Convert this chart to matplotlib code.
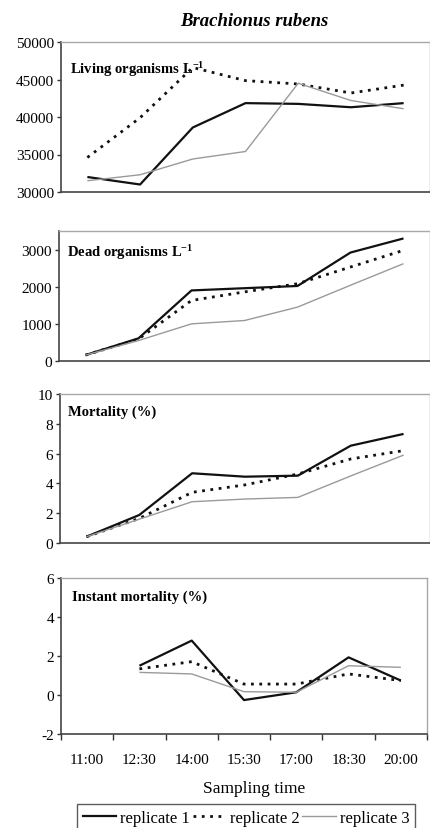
import matplotlib
matplotlib.use("Agg")
import matplotlib.pyplot as plt
from matplotlib.lines import Line2D
import numpy as np

plt.rcParams['font.family'] = ['Liberation Serif', 'DejaVu Serif']
plt.rcParams['mathtext.fontset'] = 'custom'
plt.rcParams['mathtext.rm'] = 'Liberation Serif'
plt.rcParams['mathtext.bf'] = 'Liberation Serif:bold'
plt.rcParams['mathtext.it'] = 'Liberation Serif:italic'

times = ["11:00", "12:30", "14:00", "15:30", "17:00", "18:30", "20:00"]
series_names = ["replicate 1", "replicate 2", "replicate 3"]

living_r1 = [32000, 31000, 38600, 41850, 41750, 41300, 41850]
living_r2 = [34600, 39900, 46600, 44850, 44400, 43200, 44250]
living_r3 = [31500, 32300, 34400, 35400, 44500, 42200, 41100]

dead_r1 = [160, 610, 1900, 1960, 2020, 2920, 3300]
dead_r2 = [160, 590, 1630, 1860, 2080, 2530, 2980]
dead_r3 = [160, 550, 1000, 1090, 1450, 2040, 2620]

mort_r1 = [0.42, 1.88, 4.68, 4.45, 4.52, 6.53, 7.32]
mort_r2 = [0.42, 1.65, 3.40, 3.90, 4.63, 5.64, 6.20]
mort_r3 = [0.42, 1.60, 2.77, 2.95, 3.06, 4.50, 5.90]

inst_r1 = [None, 1.50, 2.79, -0.26, 0.14, 1.93, 0.74]
inst_r2 = [None, 1.34, 1.71, 0.56, 0.56, 1.08, 0.74]
inst_r3 = [None, 1.16, 1.08, 0.17, 0.14, 1.50, 1.42]

W, H = 430, 829
fig = plt.figure(figsize=(W / 100, H / 100), dpi=100)

styles = [
    dict(color="#111111", lw=1.6, linestyle="-"),
    dict(color="#111111", lw=2.0, linestyle=(0, (1, 2))),
    dict(color="#9a9a9a", lw=1.0, linestyle="-"),
]


def px_axes(left, top, right, bottom):
    return fig.add_axes([left / W, 1 - bottom / H, (right - left) / W, (bottom - top) / H])


def draw_panel(ax, series, ylim, yticks, label, label_xy, bottom_axis=False):
    x = np.arange(len(times))
    for vals, st in zip(series, styles):
        v = np.array([np.nan if a is None else a for a in vals], dtype=float)
        ax.plot(x, v, solid_capstyle="butt", dash_capstyle="butt", **st)
    ax.set_xlim(-0.5, len(times) - 0.5)
    ax.set_ylim(*ylim)
    ax.set_yticks(yticks)
    ax.set_yticklabels([str(t) for t in yticks])
    ax.tick_params(axis="y", direction="out", length=3, width=1, pad=2,
                   labelsize=11, color="#333333")
    for s in ("top", "right"):
        ax.spines[s].set_color("#a8a8a8")
        ax.spines[s].set_linewidth(1.0)
    for s in ("left", "bottom"):
        ax.spines[s].set_color("#444444")
        ax.spines[s].set_linewidth(1.2)
    if bottom_axis:
        ax.set_xticks(np.arange(-0.5, len(times) + 0.5, 1.0))
        ax.set_xticklabels([])
        ax.set_xticks(x, minor=True)
        ax.set_xticklabels(times, minor=True)
        ax.tick_params(axis="x", which="major", direction="out", length=4,
                       width=1, color="#333333")
        ax.tick_params(axis="x", which="minor", length=0, pad=13.5, labelsize=11)
    else:
        ax.set_xticks([])
    ax.text(label_xy[0], label_xy[1], label, transform=ax.transAxes,
            fontsize=10.5, fontweight="bold", ha="left", va="center")


ax1 = px_axes(61, 43, 430, 193)
draw_panel(ax1, [living_r1, living_r2, living_r3], (30000, 50000),
           [30000, 35000, 40000, 45000, 50000],
           r"Living organisms L$^{\mathbf{-1}}$", (0.024, 0.82))

ax2 = px_axes(59, 232, 430, 362)
draw_panel(ax2, [dead_r1, dead_r2, dead_r3], (0, 3500),
           [0, 1000, 2000, 3000],
           r"Dead organisms L$^{\mathbf{-1}}$", (0.022, 0.84))

ax3 = px_axes(60, 395, 430, 544)
draw_panel(ax3, [mort_r1, mort_r2, mort_r3], (0, 10),
           [0, 2, 4, 6, 8, 10],
           "Mortality (%)", (0.022, 0.886))

ax4 = px_axes(61, 579, 427, 735)
draw_panel(ax4, [inst_r1, inst_r2, inst_r3], (-2, 6),
           [-2, 0, 2, 4, 6],
           "Instant mortality (%)", (0.03, 0.88), bottom_axis=True)

fig.text(254 / W, 1 - 21 / H, "Brachionus rubens", fontsize=13.5,
         fontweight="bold", fontstyle="italic", ha="center", va="center")
fig.text(254 / W, 1 - 789 / H, "Sampling time", fontsize=12.5,
         ha="center", va="center")

handles = [Line2D([0], [0], **st) for st in styles]
leg = fig.legend(handles, series_names, loc="upper left",
                 bbox_to_anchor=(77 / W, 1 - 805 / H), ncol=3, frameon=True,
                 fontsize=12, handlelength=2.0, handletextpad=0.25,
                 columnspacing=0.15, borderpad=0.35, fancybox=False,
                 borderaxespad=0)
leg.get_frame().set_edgecolor("#333333")
leg.get_frame().set_linewidth(1.0)

fig.savefig("out.png", dpi=100)
